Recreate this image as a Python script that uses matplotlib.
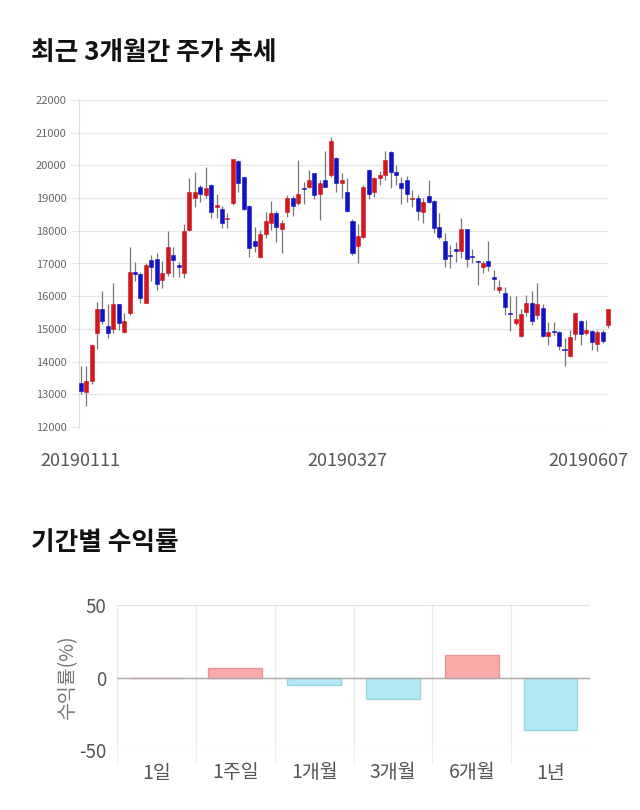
import matplotlib
matplotlib.use("Agg")
import matplotlib.pyplot as plt
import matplotlib.transforms as mtransforms
import numpy as np

plt.rcParams['font.family'] = ['Noto Sans CJK KR', 'DejaVu Sans']

# ---------------- data: daily OHLC (candles) ----------------
opens = [13360, 13060, 13410, 14860, 15610, 15090, 15010, 15750, 14900, 15490,
         16740, 16690, 15800, 17120, 17150, 16510, 16700, 17250, 16950, 16700,
         18020, 18990, 19350, 19090, 19400, 18730, 18680, 18350, 18840, 20140,
         19650, 18760, 17690, 17190, 17890, 18250, 18530, 18040, 18580, 18990,
         18840, 19300, 19350, 19760, 19140, 19550, 19700, 20240, 19450, 19200,
         18310, 17540, 17800, 19860, 19200, 19600, 19700, 20420, 19810, 19450,
         19550, 18960, 18990, 18580, 19060, 18920, 18120, 17700, 17260, 17440,
         17390, 18040, 17210, 17090, 16880, 17090, 16560, 16190, 16110, 15470,
         15180, 14770, 15530, 15800, 15430, 15650, 14790, 14950, 14900, 14360,
         14180, 14850, 15230, 14870, 14950, 14550, 14900, 15130]
highs = [13870, 13870, 14520, 15820, 16150, 15750, 16410, 15760, 15490, 17500,
         17050, 16750, 17020, 17270, 17320, 17070, 17980, 17500, 17050, 18220,
         19600, 19800, 19400, 19960, 19420, 19140, 18750, 18550, 20200, 20160,
         19660, 18780, 18130, 18020, 18580, 18910, 18600, 18330, 19090, 19060,
         20160, 19500, 19860, 19780, 19550, 20450, 20880, 20260, 19760, 19600,
         18350, 18210, 19400, 19880, 19650, 19840, 20450, 20430, 20010, 19650,
         19680, 19250, 19090, 18990, 19550, 18930, 18530, 17940, 17570, 17670,
         18380, 18050, 17440, 17100, 17090, 17690, 16800, 16500, 16270, 16000,
         16000, 15600, 16040, 16170, 16390, 15750, 15200, 15200, 14950, 14730,
         14970, 15480, 15280, 15280, 14970, 14970, 14970, 15600]
lows = [13000, 12650, 13310, 14400, 15150, 14730, 14880, 14980, 14860, 15440,
        16460, 15800, 15780, 16460, 16200, 16250, 16620, 16600, 16600, 16550,
        17990, 18730, 18890, 19000, 18400, 18400, 18100, 18100, 18800, 19190,
        18630, 17210, 17360, 17160, 17770, 18020, 17670, 17310, 18410, 18450,
        18790, 18820, 19300, 18960, 18330, 19330, 19650, 19200, 18990, 18580,
        17260, 17010, 17770, 18960, 19040, 19400, 19550, 19300, 19400, 18820,
        18890, 18720, 18330, 18230, 18840, 17940, 17740, 16880, 16850, 17060,
        17160, 16880, 17000, 16350, 16720, 16780, 16190, 16090, 15430, 14950,
        15130, 14750, 15380, 15130, 15300, 14750, 14520, 14800, 14370, 13880,
        14150, 14670, 14520, 14800, 14370, 14320, 14570, 15030]
closes = [13110, 13410, 14510, 15610, 15240, 14860, 15750, 15170, 15240, 16740,
          16690, 15950, 16960, 16890, 16360, 16710, 17500, 17100, 16900, 17990,
          19190, 19190, 19140, 19300, 18580, 18800, 18240, 18400, 20190, 19450,
          18680, 17460, 17540, 17890, 18300, 18530, 18130, 18230, 18990, 18760,
          19140, 19270, 19550, 19090, 19450, 19350, 20750, 19450, 19550, 18600,
          17330, 17840, 19350, 19140, 19600, 19700, 20160, 19810, 19700, 19300,
          19140, 19010, 18600, 18890, 18890, 18100, 17800, 17130, 17230, 17390,
          18040, 17140, 17190, 17040, 17030, 16930, 16540, 16290, 15680, 15460,
          15300, 15450, 15800, 15230, 15750, 14790, 14890, 14890, 14490, 14350,
          14750, 15480, 14850, 14970, 14600, 14900, 14640, 15600]
date_tick_index = [0, 49, 97]
date_tick_labels = ['20190111', '20190327', '20190607']
price_ticks = [12000, 13000, 14000, 15000, 16000, 17000, 18000, 19000, 20000, 21000, 22000]

# ---------------- data: period returns ----------------
periods = ['1일', '1주일', '1개월', '3개월', '6개월', '1년']
returns = [0.0, 6.4, -5.0, -14.9, 15.4, -36.2]

# ---------------- figure ----------------
W, H = 640, 810
fig = plt.figure(figsize=(W / 100, H / 100), dpi=100)

def axrect(x0, y0, x1, y1):
    return [x0 / W, 1 - y1 / H, (x1 - x0) / W, (y1 - y0) / H]

fig.text(31 / W, 1 - 52 / H, '최근 3개월간 주가 추세', fontsize=18.5, fontweight='bold',
         va='center', ha='left', color='#111111')
fig.text(31 / W, 1 - 543 / H, '기간별 수익률', fontsize=18.5, fontweight='bold',
         va='center', ha='left', color='#111111')

# ---------------- candlestick chart ----------------
ax = fig.add_axes(axrect(79, 100, 608, 427))
n = len(opens)
x = np.arange(n)
o = np.array(opens); h = np.array(highs); l = np.array(lows); c = np.array(closes)
up = c >= o
red, blue = '#d2161e', '#1212c4'
cols = [red if u else blue for u in up]
ax.vlines(x, l, h, colors='#777777', linewidth=0.9, zorder=2, clip_on=False)
bottoms = np.minimum(o, c)
heights = np.maximum(np.abs(c - o), 40)
ax.bar(x, heights, bottom=bottoms, width=0.74, color=cols, edgecolor=cols,
       linewidth=0.4, zorder=3, clip_on=False)

ax.set_ylim(12000, 22000)
ax.set_xlim(-0.31, 96.72)
ax.set_yticks(price_ticks)
ax.set_yticklabels([str(t) for t in price_ticks])
ax.set_xticks(date_tick_index)
ax.set_xticklabels(date_tick_labels)
ax.grid(axis='y', color='#e6e6e6', linewidth=0.9, zorder=0)
for s in ['top', 'right', 'bottom']:
    ax.spines[s].set_visible(False)
ax.spines['left'].set_color('#dddddd')
ax.tick_params(axis='y', length=6, color='#e6e6e6', labelsize=8, labelcolor='#666666', pad=3)
ax.tick_params(axis='x', length=0, labelsize=13, labelcolor='#555555', pad=18)
lbls = ax.get_xticklabels()
lbls[-1].set_transform(lbls[-1].get_transform() +
                       mtransforms.ScaledTranslation(-20 / 100, 0, fig.dpi_scale_trans))

# ---------------- returns bar chart ----------------
ax2 = fig.add_axes(axrect(117, 605, 590, 750))
xi = np.arange(len(periods))
bcols = ['#fba8a8' if v >= 0 else '#b2e9f3' for v in returns]
ecols = ['#e99494' if v >= 0 else '#98d5e0' for v in returns]
ax2.bar(xi, returns, width=0.68, color=bcols, edgecolor=ecols, linewidth=1, zorder=3)
ax2.set_xlim(-0.5, len(periods) - 0.5)
ax2.set_ylim(-50, 50)
ax2.set_yticks([-50, 0, 50])
ax2.set_yticklabels(['-50', '0', '50'])
ax2.set_xticks(xi)
ax2.set_xticklabels(periods)
ax2.set_xticks(np.arange(len(periods)) - 0.5, minor=True)
ax2.grid(axis='y', color='#e3e3e3', linewidth=0.9, zorder=0)
ax2.grid(axis='x', which='minor', color='#ececec', linewidth=0.9, zorder=0)
ax2.axhline(0, color='#aaaaaa', linewidth=1, zorder=4)
for s in ax2.spines.values():
    s.set_visible(False)
ax2.tick_params(axis='y', length=0, labelsize=13.5, labelcolor='#555555', pad=8)
ax2.tick_params(axis='x', which='major', length=0, labelsize=14, labelcolor='#555555', pad=9)
ax2.tick_params(axis='x', which='minor', length=10, color='#ececec')
ax2.set_ylabel('수익률(%)', fontsize=14, color='#777777', labelpad=0)

fig.savefig('out.png', dpi=100)
